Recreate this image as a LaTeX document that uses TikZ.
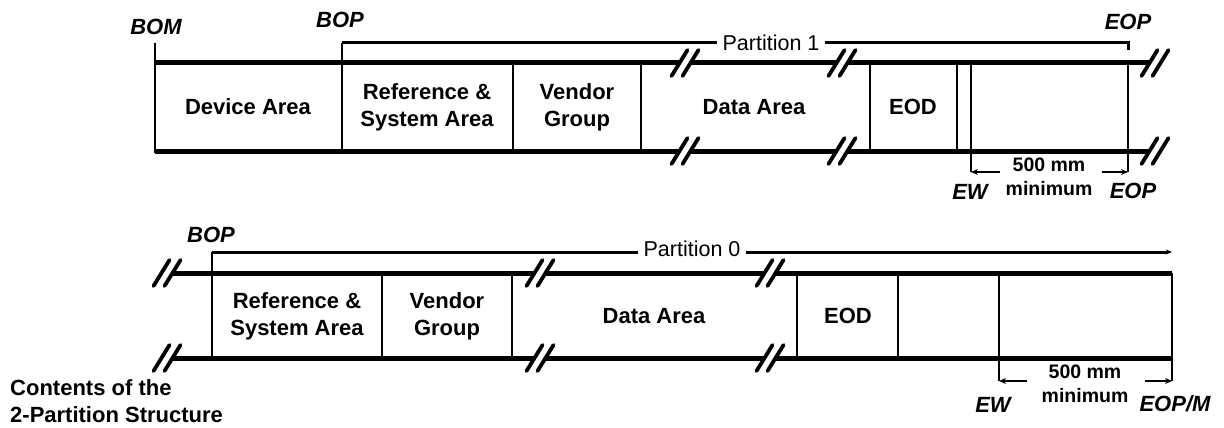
\documentclass[tikz,border=0pt]{standalone}
\usepackage{fontspec}
\setmainfont{Liberation Sans}
\usetikzlibrary{arrows.meta}
\begin{document}
\begin{tikzpicture}[x=1pt,y=-1pt,
  rail/.style={line width=5pt},
  divider/.style={line width=1.4pt},
  span/.style={line width=3pt},
  dim/.style={line width=2.2pt},
  brkline/.style={line width=3.8pt,line cap=round},
  area/.style={font=\fontsize{22}{27}\selectfont\bfseries, align=center, inner sep=0pt},
  tag/.style={font=\fontsize{22}{26}\selectfont\bfseries\itshape, inner sep=0pt},
  ptitle/.style={font=\fontsize{21.5}{25}\selectfont, fill=white, inner xsep=6pt, inner ysep=2pt},
  dimtext/.style={font=\fontsize{19.5}{24}\selectfont\bfseries, align=center, inner sep=0pt},
  tip/.style={-{Stealth[length=7pt,width=6pt]}},
  brk/.pic={\draw[brkline] (-13.5,13)--(2.5,-13); \draw[brkline] (-2.5,13)--(13.5,-13);}
]
\useasboundingbox (0,0) rectangle (1224,428);

% ---------- Partition 1 (upper tape) ----------
\coordinate (bomT) at (155,43);
\coordinate (bomB) at (155,153);
\coordinate (bop1T) at (342,43);
\coordinate (bop1B) at (342,151);
\coordinate (eop1T) at (1128,43);
\coordinate (eop1K) at (1128,50);

\draw[divider] (bomT) -- (bomB);
\draw[rail] (155,63)--(680,63) (691,63)--(837,63) (848,63)--(1150,63);
\draw[rail] (155,151)--(680,151) (691,151)--(837,151) (848,151)--(1150,151);
\foreach \x in {685,842,1155} {
  \pic at (\x,63) {brk};
  \pic at (\x,151) {brk};
}
\draw[divider] (bop1T) -- (bop1B);
\foreach \x in {513,641,870,957} \draw[divider] (\x,63) -- (\x,151);
\coordinate (ew1T) at (971,63);
\coordinate (ew1B) at (971,172);
\coordinate (eop1D) at (1128,63);
\coordinate (eop1E) at (1128,172);
\draw[divider] (ew1T) -- (ew1B);
\draw[divider] (eop1D) -- (eop1E);

\draw[span] (bop1T) -- (eop1T) -- (eop1K);
\node[ptitle] (p1) at (771,43) {Partition 1};

\coordinate (d1a) at (1000,172);
\coordinate (d1b) at (1102,172);
\draw[dim,tip] (d1a) -- (ew1B);
\draw[dim,tip] (d1b) -- (eop1E);

\node[tag] (bom) at (156,27) {BOM};
\node[tag] (bop1) at (340,20) {BOP};
\node[tag] (eop1) at (1128,22) {EOP};
\node[tag] (ew1) at (970,192) {EW};
\node[tag] (eop1b) at (1133,191) {EOP};
\node[dimtext] (min1) at (1049,176.5) {500 mm\\minimum};

\node[area] (dev) at (248,107) {Device Area};
\node[area] (rsa1) at (427,107) {Reference \&\\System Area};
\node[area] (vg1) at (577,107) {Vendor\\Group};
\node[area] (da1) at (754,107) {Data Area};
\node[area] (eod1) at (913,107) {EOD};

% ---------- Partition 0 (lower tape) ----------
\coordinate (bop0T) at (212,252);
\coordinate (bop0B) at (212,358);
\coordinate (eop0T) at (1172,252);

\draw[rail] (172.5,273)--(535,273) (546,273)--(765,273) (776,273)--(1172,273);
\draw[rail] (172.5,358)--(535,358) (546,358)--(765,358) (776,358)--(1172,358);
\foreach \x in {167,540,770} {
  \pic at (\x,273) {brk};
  \pic at (\x,358) {brk};
}
\draw[divider] (bop0T) -- (bop0B);
\foreach \x in {382,512,797,898} \draw[divider] (\x,273) -- (\x,358);
\coordinate (ew0T) at (999,273);
\coordinate (ew0B) at (999,381);
\coordinate (eop0D) at (1172,273);
\coordinate (eop0E) at (1172,381);
\draw[divider] (ew0T) -- (ew0B);
\draw[divider] (eop0D) -- (eop0E);

\draw[span,-{Stealth[length=6pt,width=5pt]}] (bop0T) -- (eop0T);
\node[ptitle] (p0) at (692,249) {Partition 0};

\coordinate (d0a) at (1027,381);
\coordinate (d0b) at (1145,381);
\draw[dim,tip] (d0a) -- (ew0B);
\draw[dim,tip] (d0b) -- (eop0E);

\node[tag] (bop0) at (211,235) {BOP};
\node[tag] (ew0) at (993,405) {EW};
\node[tag] (eop0) at (1175,404) {EOP/M};
\node[dimtext] (min0) at (1085,384) {500 mm\\minimum};

\node[area] (rsa0) at (297,316) {Reference \&\\System Area};
\node[area] (vg0) at (447,316) {Vendor\\Group};
\node[area] (da0) at (654,316) {Data Area};
\node[area] (eod0) at (848,316) {EOD};

\node[area, anchor=west, align=left] (cap) at (10,401) {Contents of the\\2-Partition Structure};
\end{tikzpicture}
\end{document}
